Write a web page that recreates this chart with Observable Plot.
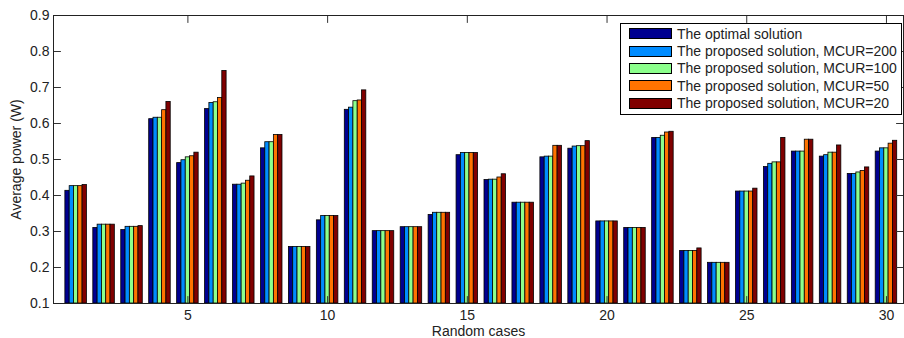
<!DOCTYPE html>
<html>
<head>
<meta charset="utf-8">
<script src="https://cdn.jsdelivr.net/npm/d3@7"></script>
<script src="https://cdn.jsdelivr.net/npm/@observablehq/plot@0.6"></script>
<style>
  html, body { margin: 0; padding: 0; background: #fff; }
  #wrap { position: relative; width: 904px; height: 338px; font-family: "Liberation Sans", Arial, sans-serif; }
  #legend { position: absolute; left: 620px; top: 23px; width: 282px; height: 92px; box-sizing: border-box;
            border: 1px solid #000; background: #fff; padding-top: 1px; }
  .row { display: flex; align-items: center; height: 17.35px; font-size: 14px; color: #222; white-space: nowrap; }
  .sw { width: 43px; height: 11px; box-sizing: border-box; border: 1px solid #000; margin-left: 8px; margin-right: 5px; }
</style>
</head>
<body>
<div id="wrap"></div>
<script>
// ---- data ----
const cases = d3.range(1, 31);
const seriesNames = [
  "The optimal solution",
  "The proposed solution, MCUR=200",
  "The proposed solution, MCUR=100",
  "The proposed solution, MCUR=50",
  "The proposed solution, MCUR=20"
];
const seriesColors = ["#000090", "#008cff", "#8cff8c", "#ff7300", "#800000"];
const optimal = [0.413,0.310,0.304,0.612,0.490,0.640,0.430,0.531,0.257,0.331,0.638,0.301,0.312,0.346,0.512,0.443,0.380,0.506,0.530,0.328,0.310,0.560,0.246,0.213,0.411,0.479,0.522,0.508,0.460,0.522];
const mcur200 = [0.426,0.319,0.313,0.616,0.498,0.657,0.430,0.548,0.257,0.343,0.644,0.301,0.312,0.352,0.518,0.444,0.380,0.508,0.536,0.328,0.310,0.560,0.246,0.213,0.411,0.488,0.522,0.512,0.460,0.531];
const mcur100 = [0.426,0.319,0.313,0.616,0.506,0.659,0.433,0.548,0.257,0.343,0.662,0.301,0.312,0.352,0.518,0.444,0.380,0.508,0.537,0.328,0.310,0.566,0.246,0.213,0.411,0.492,0.522,0.519,0.464,0.531];
const mcur50  = [0.426,0.319,0.313,0.637,0.509,0.671,0.441,0.568,0.257,0.343,0.664,0.301,0.312,0.352,0.518,0.450,0.380,0.538,0.537,0.328,0.310,0.575,0.246,0.213,0.411,0.492,0.555,0.519,0.468,0.544];
const mcur20  = [0.429,0.319,0.315,0.660,0.519,0.746,0.453,0.568,0.257,0.343,0.692,0.301,0.312,0.352,0.518,0.459,0.380,0.538,0.551,0.328,0.310,0.577,0.253,0.213,0.419,0.560,0.555,0.539,0.478,0.552];
const xTicks = [5, 10, 15, 20, 25, 30];
const yTicks = [0.1, 0.2, 0.3, 0.4, 0.5, 0.6, 0.7, 0.8, 0.9];

// ---- build table ----
const seriesValues = [optimal, mcur200, mcur100, mcur50, mcur20];
const groupWidth = 0.77;
const barW = groupWidth / seriesNames.length;
const rows = cases.flatMap((c, i) => seriesValues.map((vals, k) => ({case: c, k, series: seriesNames[k], value: vals[i]})));
const xDomain = [0.19, 30.61];
const yDomain = [0.1, 0.9];

const tickShape = {draw(context, l) { context.moveTo(0, 0); context.lineTo(0, -l); }};
const tickStyle = {length: 7, anchor: "start", stroke: "#333", strokeWidth: 1, shape: tickShape};

const chart = Plot.plot({
  width: 904,
  height: 338,
  marginLeft: 53,
  marginRight: 1,
  marginTop: 15,
  marginBottom: 35,
  x: {domain: xDomain},
  y: {domain: yDomain},
  color: {domain: seriesNames, range: seriesColors},
  style: {fontFamily: "'Liberation Sans', Arial, sans-serif", fontSize: "14px", color: "#222", background: "#fff"},
  marks: [
    Plot.rect(rows, {
      x1: d => d.case - groupWidth / 2 + d.k * barW,
      x2: d => d.case - groupWidth / 2 + (d.k + 1) * barW,
      y1: yDomain[0],
      y2: "value",
      fill: "series",
      stroke: "#000",
      strokeWidth: 0.8
    }),
    Plot.vector(yTicks, {x: xDomain[0], y: d => d, rotate: 90, ...tickStyle}),
    Plot.vector(yTicks, {x: xDomain[1], y: d => d, rotate: -90, ...tickStyle}),
    Plot.vector(xTicks, {x: d => d, y: yDomain[0], rotate: 0, ...tickStyle}),
    Plot.vector(xTicks, {x: d => d, y: yDomain[1], rotate: 180, ...tickStyle}),
    Plot.frame({stroke: "#222", strokeWidth: 1}),
    Plot.axisX({ticks: xTicks, tickSize: 0, tickPadding: 7, label: "Random cases", labelAnchor: "center", labelArrow: "none", labelOffset: 32}),
    Plot.axisY({ticks: yTicks, tickSize: 0, tickPadding: 4, tickFormat: d => d.toFixed(1), label: "Average power (W)", labelAnchor: "center", labelArrow: "none", labelOffset: 42})
  ]
});

const wrap = document.getElementById("wrap");
wrap.appendChild(chart);

// legend inside the axes
const legend = document.createElement("div");
legend.id = "legend";
seriesNames.forEach((name, i) => {
  const row = document.createElement("div");
  row.className = "row";
  const sw = document.createElement("div");
  sw.className = "sw";
  sw.style.background = seriesColors[i];
  const tx = document.createElement("span");
  tx.textContent = name;
  row.appendChild(sw);
  row.appendChild(tx);
  legend.appendChild(row);
});
wrap.appendChild(legend);
</script>
</body>
</html>
